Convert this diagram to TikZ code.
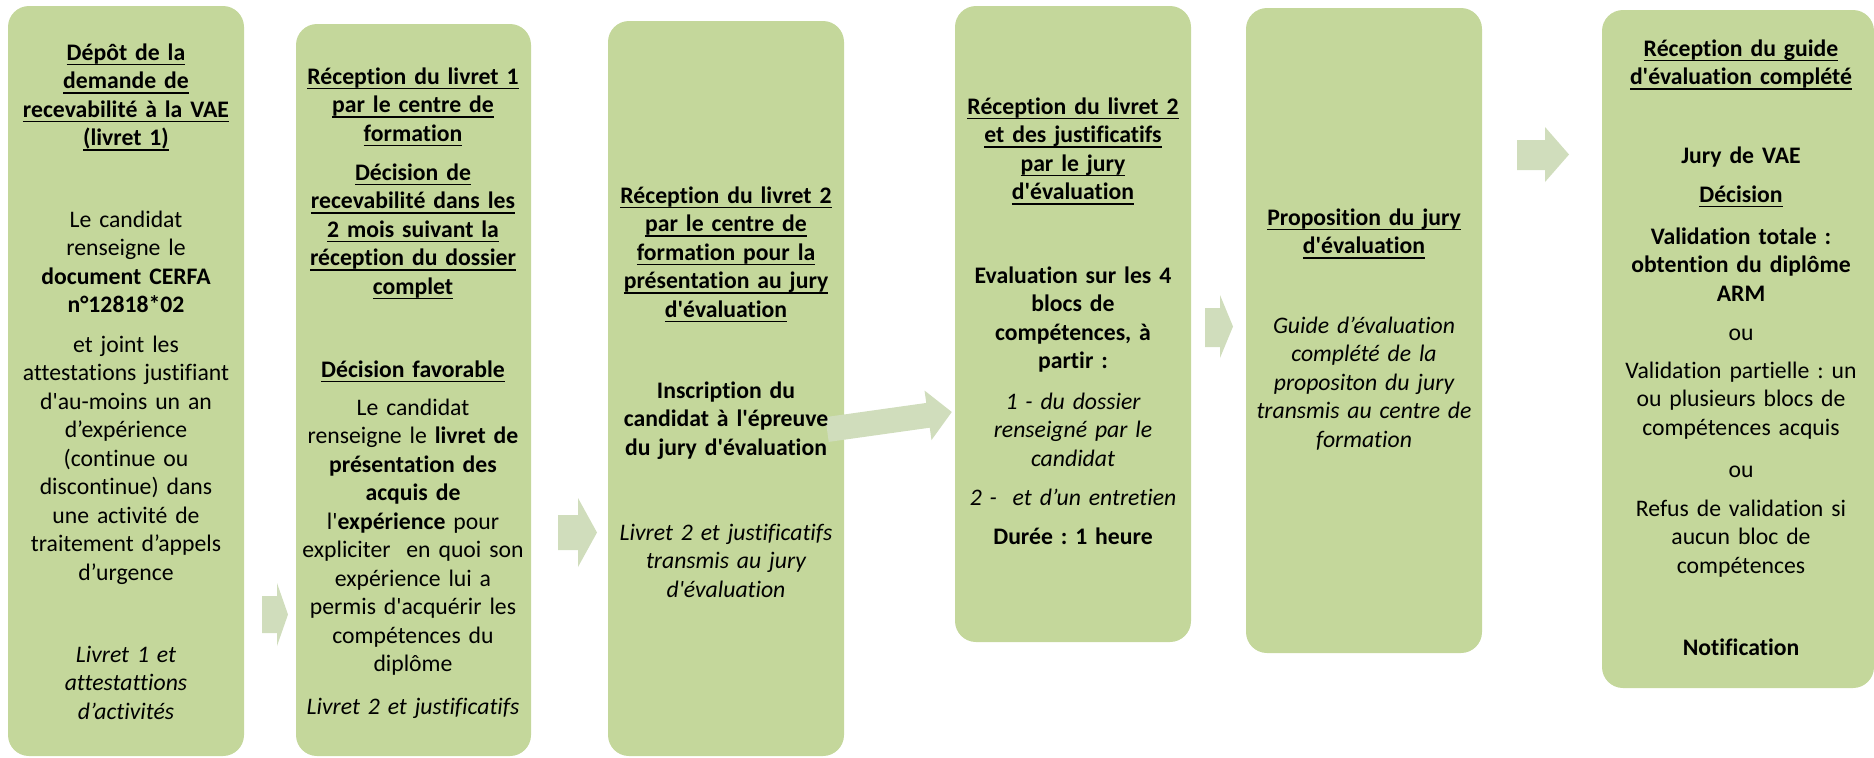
\documentclass[tikz,border=0pt]{standalone}
\usepackage{fontspec}
\setmainfont{Carlito}[Ligatures={TeXOff,NoCommon}]
\frenchspacing
\newsavebox\myulbox
\newcommand\myul[1]{\leavevmode\sbox\myulbox{#1}\rlap{\rule[-2.6pt]{\wd\myulbox}{0.8pt}}\usebox\myulbox}
\definecolor{boxgreen}{HTML}{C4D79B}
\definecolor{arrowgreen}{HTML}{D0DDBC}
\tikzset{
  box/.style={fill=boxgreen, rounded corners=10.5pt, inner sep=0pt, outer sep=0pt, anchor=north west},
  arr/.style={fill=arrowgreen},
  txt/.style={anchor=base, align=center, text width=130pt, inner sep=0pt, font=\fontsize{11.85}{14.25}\selectfont},
  txtb/.style={txt, font=\fontsize{11.85}{14.25}\selectfont\bfseries},
  txti/.style={txt, font=\fontsize{11.85}{14.25}\selectfont\itshape},
}
\begin{document}
\begin{tikzpicture}[x=0.5pt,y=-0.5pt]
\useasboundingbox (0,0) rectangle (1874,757);
% boxes
\node[box, minimum width=118pt, minimum height=375pt] (b1) at (8,6) {};
\node[box, minimum width=117.5pt, minimum height=366pt] (b2) at (296,24) {};
\node[box, minimum width=118pt, minimum height=367.5pt] (b3) at (608,21) {};
\node[box, minimum width=118pt, minimum height=318pt] (b4) at (955,6) {};
\node[box, minimum width=118pt, minimum height=322.5pt] (b5) at (1246,8) {};
\node[box, minimum width=136pt, minimum height=339pt] (b6) at (1602,10) {};
% arrows
\fill[arr] (262,596) -- (277,596) -- (277,583) -- (288,614.5) -- (277,646) -- (277,633) -- (262,633) -- cycle;
\fill[arr] (558,515) -- (578,515) -- (578,498) -- (597,532.5) -- (578,567) -- (578,550) -- (558,550) -- cycle;
\fill[arr, rotate around={8:(827,429.5)}] (827,417) -- (929,417) -- (929,404.5) -- (953,429.5) -- (929,454.5) -- (929,442) -- (827,442) -- cycle;
\fill[arr] (1205,308) -- (1220,308) -- (1220,295) -- (1233,326.5) -- (1220,358) -- (1220,347) -- (1205,347) -- cycle;
\fill[arr] (1517,140) -- (1545,140) -- (1545,127) -- (1569,154.5) -- (1545,182) -- (1545,170) -- (1517,170) -- cycle;
% box 1
\node[txtb] (t1a) at (126,60) {\myul{Dépôt de la}\\\myul{demande de}\\\myul{recevabilité à la VAE}\\\myul{(livret 1)}};
\node[txt] (t1b) at (126,227) {Le candidat\\renseigne le\\\textbf{document CERFA}\\\textbf{n°12818*02}};
\node[txt] (t1c) at (126,352) {et joint les\\attestations justifiant\\d'au-moins un an\\d’expérience\\(continue ou\\discontinue) dans\\une activité de\\traitement d’appels\\d’urgence};
\node[txti] (t1d) at (126,662) {Livret 1 et\\attestattions\\d’activités};
% box 2
\node[txtb] (t2a) at (413,84) {\myul{Réception du livret 1}\\\myul{par le centre de}\\\myul{formation}};
\node[txtb] (t2b) at (413,180) {\myul{Décision de}\\\myul{recevabilité dans les}\\\myul{2 mois suivant la}\\\myul{réception du dossier}\\\myul{complet}};
\node[txtb] (t2c) at (413,377) {\myul{Décision favorable}};
\node[txt] (t2d) at (413,415) {Le candidat\\renseigne le \textbf{livret de}\\\textbf{présentation des}\\\textbf{acquis de}\\l'\textbf{expérience} pour\\expliciter\ \ en quoi son\\expérience lui a\\permis d'acquérir les\\compétences du\\diplôme};
\node[txti] (t2e) at (413,714) {Livret 2 et justificatifs};
% box 3
\node[txtb] (t3a) at (726,203) {\myul{Réception du livret 2}\\\myul{par le centre de}\\\myul{formation pour la}\\\myul{présentation au jury}\\\myul{d'évaluation}};
\node[txtb] (t3b) at (726,398) {Inscription du\\candidat à l'épreuve\\du jury d'évaluation};
\node[txti] (t3c) at (726,540) {Livret 2 et justificatifs\\transmis au jury\\d'évaluation};
% box 4
\node[txtb] (t4a) at (1073,114) {\myul{Réception du livret 2}\\\myul{et des justificatifs}\\\myul{par le jury}\\\myul{d'évaluation}};
\node[txtb] (t4b) at (1073,283) {Evaluation sur les 4\\blocs de\\compétences, à\\partir :};
\node[txti] (t4c) at (1073,409) {1 - du dossier\\renseigné par le\\candidat};
\node[txti] (t4d) at (1073,505) {2 -\ \ et d’un entretien};
\node[txtb] (t4e) at (1073,544) {Durée : 1 heure};
% box 5
\node[txtb] (t5a) at (1364,225) {\myul{Proposition du jury}\\\myul{d'évaluation}};
\node[txti] (t5b) at (1364,333) {Guide d’évaluation\\complété de la\\propositon du jury\\transmis au centre de\\formation};
% box 6
\node[txtb] (t6a) at (1741,56) {\myul{Réception du guide}\\\myul{d'évaluation complété}};
\node[txtb] (t6b) at (1741,163) {Jury de VAE};
\node[txtb] (t6c) at (1741,202) {\myul{Décision}};
\node[txtb] (t6d) at (1741,244) {Validation totale :\\obtention du diplôme\\ARM};
\node[txt] (t6e) at (1741,340) {ou};
\node[txt] (t6f) at (1741,378) {Validation partielle : un\\ou plusieurs blocs de\\compétences acquis};
\node[txt] (t6g) at (1741,477) {ou};
\node[txt] (t6h) at (1741,516) {Refus de validation si\\aucun bloc de\\compétences};
\node[txtb] (t6i) at (1741,655) {Notification};
\end{tikzpicture}
\end{document}
